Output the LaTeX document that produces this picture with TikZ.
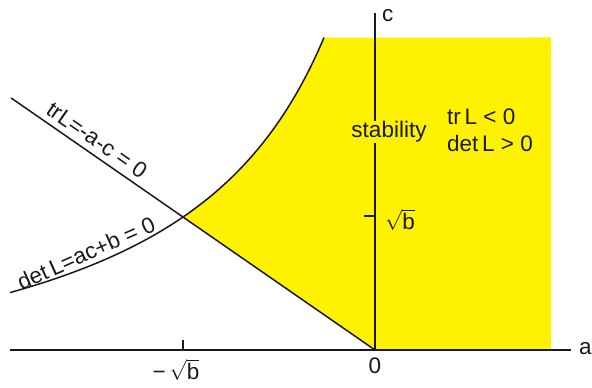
\documentclass[tikz,border=0pt]{standalone}
\usepackage{fontspec}
\setmainfont{Liberation Sans}
\definecolor{ink}{RGB}{25,25,25}
\begin{document}
\begin{tikzpicture}[x=1pt,y=1pt,
  axis/.style={draw=ink,line width=1.4pt},
  curveline/.style={draw=ink,line width=1.5pt},
  lbl/.style={font=\fontsize{22.5}{26}\selectfont,inner sep=1pt,text=ink}]
\useasboundingbox (0,0) rectangle (592,388);
% stability region
\fill[yellow] plot[domain=183:324,samples=80] (\x,{636.72/(4.88-\x/100)-37.8})
  -- (551,350.5) -- (551,39) -- (375,39) -- cycle;
% axes
\coordinate (O) at (375,38);
\coordinate (aL) at (10,38);
\coordinate (aR) at (571,38);
\coordinate (cT) at (375,375);
\draw[axis] (aL) -- (aR);
\draw[axis] (O) -- (cT);
\node[lbl,anchor=west,inner sep=0pt] (alab) at (579,39) {a};
\node[lbl,anchor=west] (clab) at (381,372) {c};
% ticks
\coordinate (tA) at (183,38);
\coordinate (tA2) at (183,48);
\draw[axis] (tA) -- (tA2);
\coordinate (tC) at (364,172);
\coordinate (tC2) at (375,172);
\draw[axis] (tC) -- (tC2);
\node[lbl] (msb) at (176,18) {−\,$\sqrt{\mbox{b}}$};
\node[lbl,anchor=west] (sb) at (384,168) {$\sqrt{\mbox{b}}$};
\node[lbl] (zero) at (375,22) {0};
% trace line
\coordinate (trS) at (11,290.1);
\draw[curveline] (trS) -- (O);
% determinant curve
\draw[curveline] plot[domain=10:324,samples=120] (\x,{636.72/(4.88-\x/100)-37.8});
% labels
\node[lbl,fill=yellow] (stab) at (389,256) {stability};
\node[lbl,anchor=west] (trneg) at (446,271) {tr\,L < 0};
\node[lbl,anchor=west] (detpos) at (446,245) {det\,L > 0};
\node[lbl,rotate=-34.7] (trlab) at (97,248) {trL=-a-c = 0};
\node[lbl,rotate=24] (detlab) at (86,135) {det\,L=ac+b = 0};
\end{tikzpicture}
\end{document}
